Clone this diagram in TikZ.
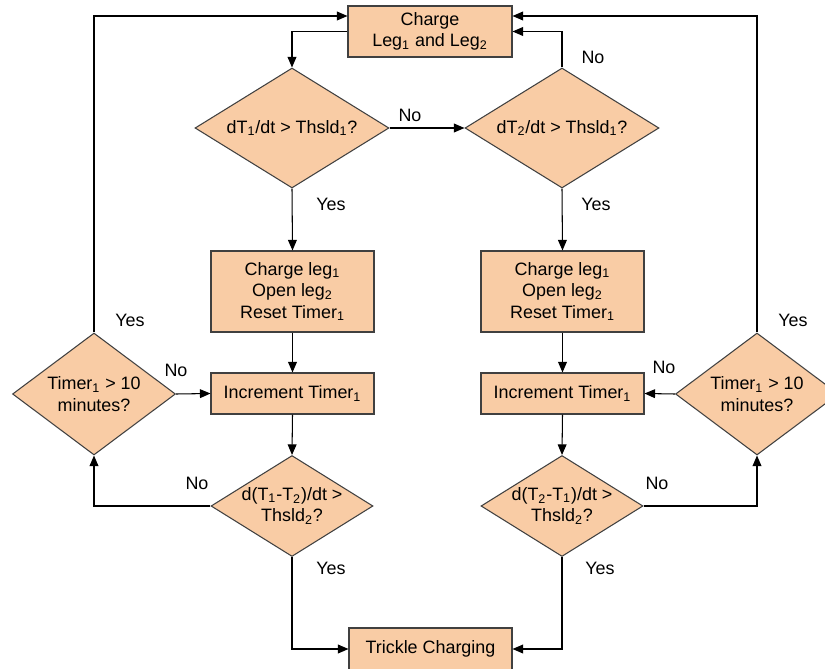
\documentclass[tikz,border=0pt]{standalone}
\usepackage{fontspec}
\setmainfont{Liberation Sans}
\usetikzlibrary{shapes.geometric,arrows.meta,calc}
\definecolor{peach}{RGB}{249,204,165}
\definecolor{edge}{RGB}{64,64,64}
\begin{document}
\begin{tikzpicture}[x=0.02cm, y=-0.02cm, font=\fontsize{10.2}{12.3}\selectfont,
  box/.style={draw=edge, line width=0.6pt, fill=peach, align=center, inner sep=0pt, minimum width=3.26cm},
  test/.style={diamond, draw=edge, line width=0.6pt, fill=peach, align=center, inner sep=0pt},
  flow/.style={line width=0.6pt, -{Triangle[length=6pt,width=5pt]}}]
\useasboundingbox (0,0) rectangle (825,669);
\clip (0,0) rectangle (825,669);
% boxes
\node[box, minimum width=3.28cm, minimum height=1.02cm] (chg) at (430,31.5) {Charge\\Leg\textsubscript{1} and Leg\textsubscript{2}};
\node[box, minimum height=1.62cm] (b1) at (292.5,291.5) {Charge leg\textsubscript{1}\\Open leg\textsubscript{2}\\Reset Timer\textsubscript{1}};
\node[box, minimum height=1.62cm] (b2) at (562.5,291.5) {Charge leg\textsubscript{1}\\Open leg\textsubscript{2}\\Reset Timer\textsubscript{1}};
\node[box, minimum height=0.82cm] (i1) at (292.5,393.5) {Increment Timer\textsubscript{1}};
\node[box, minimum height=0.82cm] (i2) at (562.5,393.5) {Increment Timer\textsubscript{1}};
\node[box, minimum height=0.84cm] (trk) at (430.5,649) {Trickle Charging};
% decisions
\node[test, aspect=1.62, minimum width=3.88cm, minimum height=2.4cm] (d1) at (292,128) {dT\textsubscript{1}/dt > Thsld\textsubscript{1}?};
\node[test, aspect=1.62, minimum width=3.88cm, minimum height=2.4cm] (d2) at (562,128) {dT\textsubscript{2}/dt > Thsld\textsubscript{1}?};
\node[test, aspect=1.34, minimum width=3.26cm, minimum height=2.44cm] (t1) at (94,394) {Timer\textsubscript{1} > 10\\minutes?};
\node[test, aspect=1.34, minimum width=3.26cm, minimum height=2.44cm] (t2) at (757,394) {Timer\textsubscript{1} > 10\\minutes?};
\node[test, aspect=1.6, minimum width=3.24cm, minimum height=2.02cm] (e1) at (292,506) {d(T\textsubscript{1}-T\textsubscript{2})/dt >\\Thsld\textsubscript{2}?};
\node[test, aspect=1.6, minimum width=3.24cm, minimum height=2.02cm] (e2) at (562,506) {d(T\textsubscript{2}-T\textsubscript{1})/dt >\\Thsld\textsubscript{2}?};
% connectors
\draw[flow] (chg.west) -| (d1.north);
\draw[flow] (d1.east) -- (d2.west);
\draw[flow] (d2.north) |- (chg.east);
\draw[flow] (t1.north) |- ($(chg.west)+(0,-15.5)$);
\draw[flow] (t2.north) |- ($(chg.east)+(0,-15.5)$);
\draw[flow] (d1.south) -- (b1.north);
\draw[flow] (d2.south) -- (b2.north);
\draw[flow] (b1.south) -- (i1.north);
\draw[flow] (b2.south) -- (i2.north);
\draw[flow] (t1.east) -- (i1.west);
\draw[flow] (t2.west) -- (i2.east);
\draw[flow] (i1.south) -- (e1.north);
\draw[flow] (i2.south) -- (e2.north);
\draw[flow] (e1.west) -| (t1.south);
\draw[flow] (e2.east) -| (t2.south);
\draw[flow] (e1.south) |- (trk.west);
\draw[flow] (e2.south) |- (trk.east);
% labels
\node (no1) at (410,115) {No};
\node (no2) at (593,57) {No};
\node (no3) at (176,370) {No};
\node (no4) at (664,367) {No};
\node (no5) at (197,483) {No};
\node (no6) at (657,483) {No};
\node (yes1) at (331,204) {Yes};
\node (yes2) at (596,204) {Yes};
\node (yes3) at (130,320) {Yes};
\node (yes4) at (793,320) {Yes};
\node (yes5) at (331,568) {Yes};
\node (yes6) at (600,568) {Yes};
\end{tikzpicture}
\end{document}
